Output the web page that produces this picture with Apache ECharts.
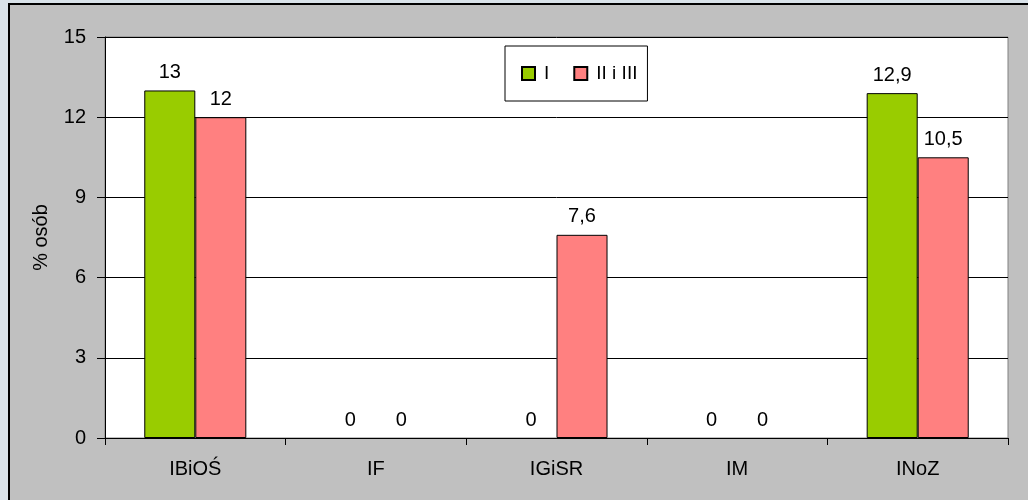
<!DOCTYPE html>
<html>
<head>
<meta charset="utf-8">
<script src="https://cdn.jsdelivr.net/npm/echarts@6/dist/echarts.min.js"></script>
<style>
html,body{margin:0;padding:0;background:#d9e2e9;}
#c{width:1028px;height:500px;}
</style>
</head>
<body>
<div id="c"></div>
<script>
var categories = ['IBiOŚ', 'IF', 'IGiSR', 'IM', 'INoZ'];
var seriesNames = ['I', 'II i III'];
var valuesI = [13, 0, 0, 0, 12.9];
var valuesII = [12, 0, 7.6, 0, 10.5];
var yTicks = [0, 3, 6, 9, 12, 15];

var FONT = '"Liberation Sans", Arial, sans-serif';
var chart = echarts.init(document.getElementById('c'), null, {renderer: 'canvas'});

function lbl() {
  return {
    show: true, position: 'top', distance: 8,
    color: '#000', fontSize: 20, fontFamily: FONT,
    formatter: function (p) { return String(p.value).replace('.', ','); }
  };
}
function items(arr) {
  return arr.map(function (v) {
    return v === 0 ? {value: v, itemStyle: {borderWidth: 0, color: 'rgba(0,0,0,0)'}} : {value: v};
  });
}

chart.setOption({
  backgroundColor: '#d9e2e9',
  animation: false,
  textStyle: {fontFamily: FONT},
  graphic: [{
    type: 'rect', z: -100, silent: true,
    shape: {x: 9, y: 4, width: 1040, height: 520},
    style: {fill: '#c0c0c0', stroke: '#000', lineWidth: 2}
  }],
  grid: {
    left: 105, top: 37, right: 20, bottom: 62,
    show: true, backgroundColor: '#fff', borderColor: '#808080', borderWidth: 1
  },
  legend: {
    left: 505, top: 46,
    padding: [18, 10, 18, 16],
    itemWidth: 13, itemHeight: 13, itemGap: 24,
    backgroundColor: '#fff', borderColor: '#000', borderWidth: 1,
    textStyle: {fontSize: 19, lineHeight: 19, color: '#000', fontFamily: FONT, padding: [0, 0, 0, 4]},
    data: seriesNames.map(function (n) { return {name: n, icon: 'rect'}; })
  },
  xAxis: {
    type: 'category', data: categories,
    axisLine: {lineStyle: {color: '#000', width: 1}},
    axisTick: {show: true, length: 7, lineStyle: {color: '#000'}},
    axisLabel: {color: '#000', fontSize: 20, fontFamily: FONT, margin: 21},
    splitLine: {show: false}
  },
  yAxis: {
    type: 'value', min: 0, max: 15, interval: 3,
    name: '% osób', nameLocation: 'middle', nameGap: 54, nameRotate: 90,
    nameTextStyle: {color: '#000', fontSize: 20, fontFamily: FONT},
    axisLine: {show: true, lineStyle: {color: '#000', width: 1}},
    axisTick: {show: true, length: 8, lineStyle: {color: '#000'}},
    axisLabel: {color: '#000', fontSize: 20, fontFamily: FONT, margin: 19,
      formatter: function (v) { return yTicks.indexOf(v) >= 0 ? String(v) : ''; }},
    splitLine: {show: true, lineStyle: {color: '#000', width: 1}}
  },
  series: [
    {name: seriesNames[0], type: 'bar', data: items(valuesI), barGap: '0%', barCategoryGap: '43.5%',
     itemStyle: {color: '#99cc00', borderColor: '#000', borderWidth: 1}, label: lbl()},
    {name: seriesNames[1], type: 'bar', data: items(valuesII), barGap: '0%', barCategoryGap: '43.5%',
     itemStyle: {color: '#ff8080', borderColor: '#000', borderWidth: 1}, label: lbl()}
  ]
});
</script>
</body>
</html>
